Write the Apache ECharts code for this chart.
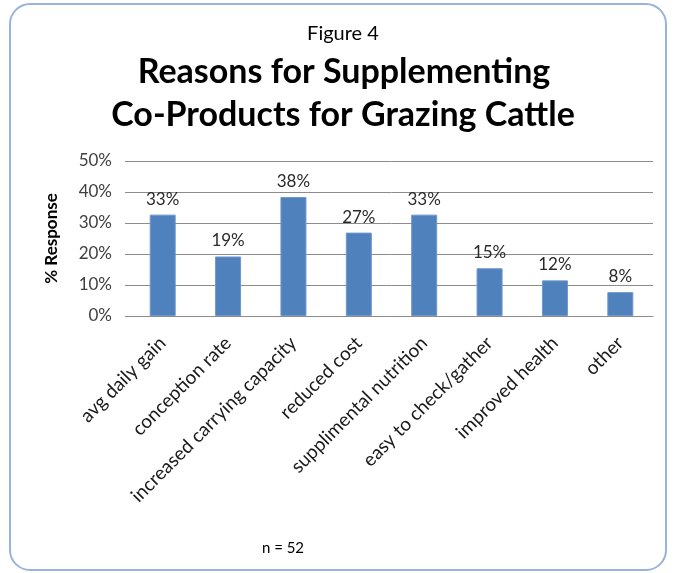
<!DOCTYPE html>
<html>
<head>
<meta charset="utf-8">
<script src="https://cdn.jsdelivr.net/npm/echarts@6/dist/echarts.min.js"></script>
<style>
  html, body { margin: 0; padding: 0; background: #fff; }
  #chart { width: 677px; height: 573px; }
</style>
</head>
<body>
<div id="chart"></div>
<script>
// données (n = 52)
const categories = ['avg daily gain', 'conception rate', 'increased carrying capacity', 'reduced cost',
  'supplimental nutrition', 'easy to check/gather', 'improved health', 'other'];
const responses = [32.7, 19.2, 38.4, 26.9, 32.7, 15.4, 11.5, 7.7];
const yTicks = [0, 10, 20, 30, 40, 50];

const chart = echarts.init(document.getElementById('chart'));
const font = 'Lato, "Open Sans", sans-serif';

const options = {
  animation: false,
  textStyle: { fontFamily: font },
  graphic: [
    {
      type: 'rect',
      shape: { x: 10, y: 4, width: 656, height: 566, r: 20 },
      style: { fill: 'none', stroke: '#9bb3db', lineWidth: 2 }
    },
    {
      type: 'text', x: 343, y: 34,
      style: { text: 'Figure 4', font: '20px ' + font, fill: '#000', align: 'center', verticalAlign: 'middle' }
    },
    {
      type: 'text', x: 344, y: 72,
      style: { text: 'Reasons for Supplementing', font: 'bold 34px ' + font, fill: '#000', align: 'center', verticalAlign: 'middle' }
    },
    {
      type: 'text', x: 343, y: 115,
      style: { text: 'Co-Products for Grazing Cattle', font: 'bold 34px ' + font, fill: '#000', align: 'center', verticalAlign: 'middle' }
    },
    {
      type: 'text', x: 283, y: 548,
      style: { text: 'n = 52', font: '15px ' + font, fill: '#000', align: 'center', verticalAlign: 'middle' }
    }
  ],
  grid: { left: 130, right: 24, top: 161, bottom: 257 },
  xAxis: {
    type: 'category',
    data: categories,
    axisLine: { lineStyle: { color: '#8c8c8c' } },
    axisTick: { show: false },
    axisLabel: { rotate: 45, margin: 24, fontSize: 19, color: '#1a1a1a', interval: 0 }
  },
  yAxis: {
    type: 'value',
    min: yTicks[0],
    max: yTicks[yTicks.length - 1],
    interval: 10,
    name: '% Response',
    nameLocation: 'middle',
    nameGap: 70,
    nameTextStyle: { fontSize: 17, fontWeight: 'bold', color: '#000' },
    axisLine: { show: false },
    axisTick: { show: true, length: 5, lineStyle: { color: '#8c8c8c' } },
    axisLabel: { formatter: '{value}%', fontSize: 17, color: '#404040', margin: 18 },
    splitLine: { lineStyle: { color: '#8c8c8c', width: 1 } }
  },
  series: [
    {
      name: '% Response',
      type: 'bar',
      data: responses,
      barWidth: 26,
      itemStyle: { color: '#4f81bd', borderColor: '#6f97cc', borderWidth: 1 },
      label: {
        show: true,
        position: 'top',
        distance: 7,
        fontSize: 17,
        color: '#2a2a2a',
        formatter: p => Math.round(p.value) + '%'
      }
    }
  ]
};

chart.setOption(options);
</script>
</body>
</html>
